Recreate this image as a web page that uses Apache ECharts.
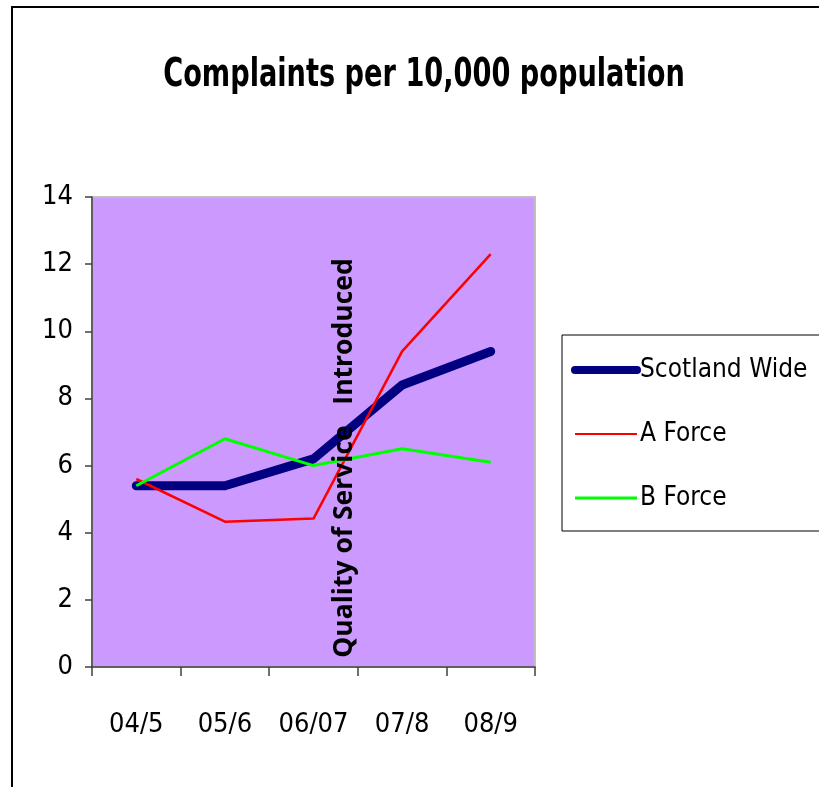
<!DOCTYPE html>
<html>
<head>
<meta charset="utf-8">
<script src="https://cdn.jsdelivr.net/npm/echarts@6/dist/echarts.min.js"></script>
<style>
  html, body { margin:0; padding:0; background:#fff; }
  #chart { width:819px; height:787px; }
</style>
</head>
<body>
<div id="chart"></div>
<script>
const years = ['04/5', '05/6', '06/07', '07/8', '08/9'];
const scotlandWide = [5.4, 5.4, 6.2, 8.4, 9.4];
const aForce = [5.6, 4.33, 4.42, 9.4, 12.3];
const bForce = [5.4, 6.8, 6.0, 6.5, 6.1];
const seriesNames = ['Scotland Wide', 'A Force', 'B Force'];
const chartTitle = 'Complaints per 10,000 population';
const annotation = 'Quality of Service   Introduced';

const narrow = "'DejaVu Sans Condensed', 'Liberation Sans Narrow', sans-serif";
const chart = echarts.init(document.getElementById('chart'), null, { renderer: 'canvas' });

chart.setOption({
  backgroundColor: '#fff',
  animation: false,
  legend: {
    orient: 'vertical',
    left: 562, top: 335,
    padding: [22, 60, 20, 9],
    itemGap: 38,
    itemWidth: 62, itemHeight: 14,
    borderColor: '#000', borderWidth: 1,
    itemStyle: { opacity: 0 },
    textStyle: { fontFamily: narrow, fontSize: 26, color: '#000', padding: [0, 0, 0, -2] },
    data: [
      { name: seriesNames[0], lineStyle: { width: 8, color: '#000080', cap: 'round' } },
      { name: seriesNames[1], lineStyle: { width: 2, color: '#ff0000' } },
      { name: seriesNames[2], lineStyle: { width: 3, color: '#00ff00' } }
    ]
  },
  grid: {
    left: 92, top: 197, right: 284, bottom: 120,
    show: true, backgroundColor: '#cc99ff',
    borderColor: '#c0c0c0', borderWidth: 2
  },
  xAxis: {
    type: 'category',
    data: years,
    boundaryGap: true,
    axisLine: { lineStyle: { color: '#404040', width: 1.5 } },
    axisTick: { show: true, interval: 0, length: 9, lineStyle: { color: '#404040', width: 1.5 } },
    axisLabel: { interval: 0, fontFamily: narrow, fontSize: 27, color: '#000', margin: 44 },
    splitLine: { show: false }
  },
  yAxis: {
    type: 'value',
    min: 0, max: 14, interval: 2,
    axisLine: { show: true, lineStyle: { color: '#404040', width: 1.5 } },
    axisTick: { show: true, length: 7, lineStyle: { color: '#404040', width: 1.5 } },
    axisLabel: { fontFamily: narrow, fontSize: 27, color: '#000', margin: 19 },
    splitLine: { show: false }
  },
  series: [
    {
      name: seriesNames[0], type: 'line', data: scotlandWide,
      symbol: 'none', z: 3,
      lineStyle: { color: '#000080', width: 9, cap: 'round', join: 'round' },
      itemStyle: { color: '#000080' }
    },
    {
      name: seriesNames[1], type: 'line', data: aForce,
      symbol: 'none', z: 4,
      lineStyle: { color: '#ff0000', width: 2.5 },
      itemStyle: { color: '#ff0000' }
    },
    {
      name: seriesNames[2], type: 'line', data: bForce,
      symbol: 'none', z: 5,
      lineStyle: { color: '#00ff00', width: 3 },
      itemStyle: { color: '#00ff00' }
    }
  ],
  graphic: [
    {
      type: 'rect', silent: true, z: -1,
      shape: { x: 12, y: 7, width: 900, height: 900 },
      style: { fill: 'none', stroke: '#000', lineWidth: 2 }
    },
    {
      type: 'text', z: 100,
      x: 424, y: 76, scaleX: 0.775,
      style: {
        text: chartTitle,
        fontFamily: narrow, fontWeight: 'bold', fontSize: 39,
        fill: '#000', align: 'center', verticalAlign: 'middle'
      }
    },
    {
      type: 'text', z: 100,
      x: 344, y: 458, rotation: Math.PI / 2,
      style: {
        text: annotation,
        fontFamily: "'Open Sans', sans-serif", fontWeight: 'bold', fontSize: 26.5,
        fill: '#000', align: 'center', verticalAlign: 'middle'
      }
    }
  ]
});
</script>
</body>
</html>
